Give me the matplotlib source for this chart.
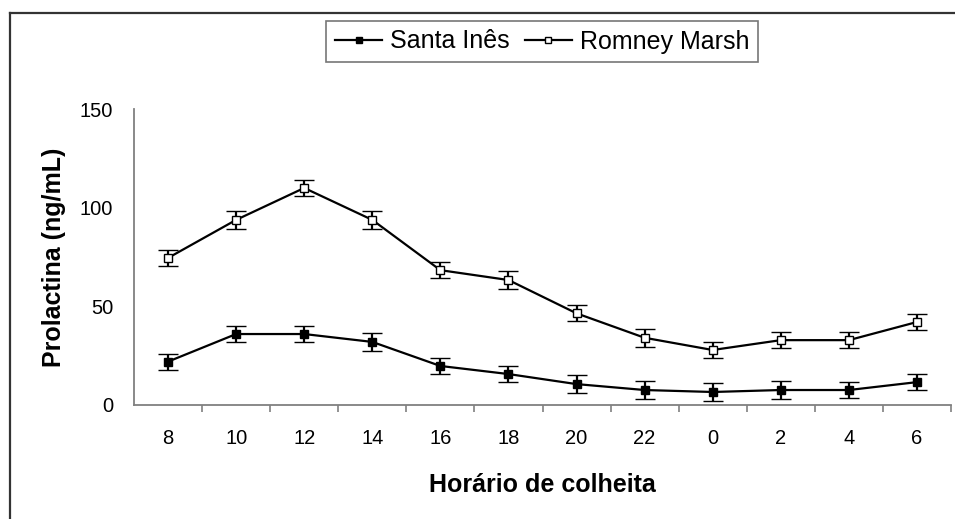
import matplotlib
matplotlib.use("Agg")
import matplotlib.pyplot as plt
from matplotlib.lines import Line2D

plt.rcParams['font.family'] = ['Liberation Sans', 'DejaVu Sans']

hours = ['8', '10', '12', '14', '16', '18', '20', '22', '0', '2', '4', '6']
santa_ines = [22.0, 36.0, 36.0, 32.0, 19.8, 15.7, 10.6, 7.6, 6.6, 7.6, 7.6, 11.6]
santa_ines_err = [4.0, 4.0, 4.0, 4.7, 4.0, 4.0, 4.7, 4.7, 4.7, 4.7, 4.1, 4.1]
romney = [74.6, 93.9, 110.1, 93.9, 68.4, 63.4, 46.5, 34.1, 27.9, 32.9, 32.9, 42.1]
romney_err = [4.0, 4.6, 4.0, 4.6, 4.0, 4.6, 4.1, 4.6, 4.1, 4.1, 4.1, 4.1]

W, H = 955, 519
fig = plt.figure(figsize=(W / 100, H / 100), dpi=100)
ax = fig.add_axes([134 / W, (H - 405) / H, (951 - 134) / W, (405 - 109.3) / H])

x = list(range(len(hours)))
common = dict(color='black', lw=1.6, capsize=7, elinewidth=1.6, capthick=1.6,
              markersize=5.5, markeredgewidth=1.0)
ax.errorbar(x, santa_ines, yerr=santa_ines_err, marker='s', markerfacecolor='black',
            markeredgecolor='black', **common)
ax.errorbar(x, romney, yerr=romney_err, marker='s', markerfacecolor='white',
            markeredgecolor='black', **common)

ax.set_xlim(-0.5, len(hours) - 0.5)
ax.set_ylim(0, 150)
ax.set_yticks([0, 50, 100, 150])
ax.set_xticks(x)
ax.set_xticklabels(hours)
ax.set_xticks([i + 0.5 for i in range(len(hours))], minor=True)
ax.tick_params(axis='x', which='major', length=0, labelsize=14.5, pad=17)
ax.tick_params(axis='x', which='minor', length=5, width=1.2, color='#808080', direction='out')
ax.tick_params(axis='y', length=0, labelsize=14.5, pad=15)

for side in ['top', 'right']:
    ax.spines[side].set_visible(False)
for side in ['left', 'bottom']:
    ax.spines[side].set_color('#808080')
    ax.spines[side].set_linewidth(1.3)

ax.set_ylabel('Prolactina (ng/mL)', fontsize=18, fontweight='bold', labelpad=10)
ax.set_xlabel('Horário de colheita', fontsize=18, fontweight='bold', labelpad=18)

handles = [
    Line2D([], [], color='black', lw=1.6, marker='s', markersize=4,
           markerfacecolor='black', markeredgecolor='black', markeredgewidth=1.0),
    Line2D([], [], color='black', lw=1.6, marker='s', markersize=4,
           markerfacecolor='white', markeredgecolor='black', markeredgewidth=1.0),
]
labels = ['Santa Inês', 'Romney Marsh']
leg = fig.legend(handles, labels, loc='center', ncol=2,
                 bbox_to_anchor=(542 / W, 1 - 41.5 / H),
                 fontsize=18, frameon=True, fancybox=False, edgecolor='#555555',
                 handlelength=1.9, handletextpad=0.3, columnspacing=0.6,
                 borderpad=0.35, borderaxespad=0)
leg.get_frame().set_linewidth(1.2)

# outer chart frame (partially cropped)
fig.add_artist(Line2D([10 / W, 10 / W], [0, 1 - 13 / H], transform=fig.transFigure,
                      color='#333333', lw=1.6))
fig.add_artist(Line2D([10 / W, 1], [1 - 13 / H, 1 - 13 / H], transform=fig.transFigure,
                      color='#333333', lw=1.6))

fig.savefig('out.png', dpi=100)
